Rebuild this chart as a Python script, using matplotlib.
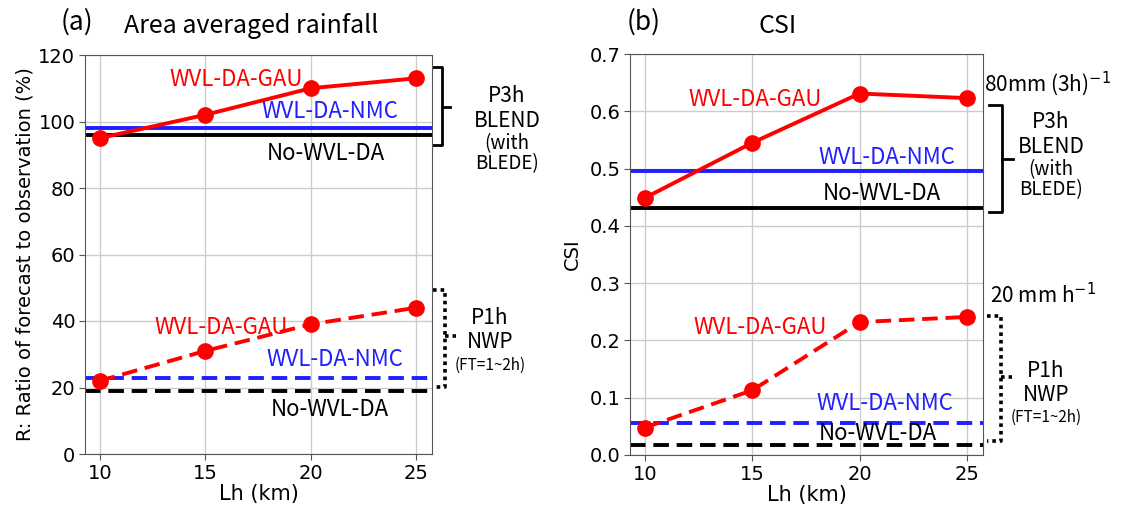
import matplotlib
matplotlib.use("Agg")
import matplotlib.pyplot as plt
import matplotlib.transforms as mtransforms

plt.rcParams['font.family'] = ['DejaVu Sans']
JP = ['Noto Sans CJK JP', 'DejaVu Sans']

W, H = 1123, 516

lh = [10, 15, 20, 25]

# (a) Area averaged rainfall ratio (%)
rain_gau_p3h = [95, 102, 110, 113]
rain_nmc_p3h = 98
rain_no_p3h = 96
rain_gau_p1h = [22, 31, 39, 44]
rain_nmc_p1h = 23
rain_no_p1h = 19

# (b) CSI
csi_gau_p3h = [0.449, 0.545, 0.631, 0.623]
csi_nmc_p3h = 0.496
csi_no_p3h = 0.432
csi_gau_p1h = [0.048, 0.113, 0.232, 0.241]
csi_nmc_p1h = 0.056
csi_no_p1h = 0.017

fig = plt.figure(figsize=(W / 100, H / 100), dpi=100)

def fax(x0, x1, y0, y1):
    return [x0 / W, 1 - y1 / H, (x1 - x0) / W, (y1 - y0) / H]

ax1 = fig.add_axes(fax(85, 432, 55, 454))
ax2 = fig.add_axes(fax(630, 983, 54, 455))

def ftext(x, y, s, **kw):
    fig.text(x / W, 1 - y / H, s, ha=kw.pop('ha', 'center'), va=kw.pop('va', 'center'),
             family=kw.pop('family', JP), **kw)

def style(ax):
    ax.grid(True, color='#cccccc', linewidth=1)
    ax.set_axisbelow(True)
    for sp in ax.spines.values():
        sp.set_color('#555555')
    ax.tick_params(labelsize=14, length=4, color='#555555', pad=3)
    ax.set_xticks(lh)

lw = 2.8
dash = (0, (4, 2))
for ax, gau3, nmc3, no3, gau1, nmc1, no1 in [
    (ax1, rain_gau_p3h, rain_nmc_p3h, rain_no_p3h, rain_gau_p1h, rain_nmc_p1h, rain_no_p1h),
    (ax2, csi_gau_p3h, csi_nmc_p3h, csi_no_p3h, csi_gau_p1h, csi_nmc_p1h, csi_no_p1h),
]:
    style(ax)
    ax.axhline(no3, color='black', lw=lw, zorder=2)
    ax.axhline(nmc3, color='#1f1fff', lw=lw, zorder=2)
    ax.plot(lh, gau3, color='red', lw=lw, marker='o', markersize=11, zorder=3)
    ax.axhline(no1, color='black', lw=lw, ls=dash, zorder=2)
    ax.axhline(nmc1, color='#1f1fff', lw=lw, ls=dash, zorder=2)
    ax.plot(lh, gau1, color='red', lw=lw, ls=dash, marker='o', markersize=11, zorder=3)
    ax.set_xlim(9.3, 25.75)
    ax.set_xlabel('Lh (km)', fontsize=15, labelpad=1)

ax1.set_ylim(0, 120)
ax1.set_yticks(range(0, 121, 20))
ax1.set_ylabel('R: Ratio of forecast to observation (%)', fontsize=14, labelpad=3)
ax2.set_ylim(0, 0.7)
ax2.set_yticks([0.0, 0.1, 0.2, 0.3, 0.4, 0.5, 0.6, 0.7])
ax2.set_yticklabels(['0.0', '0.1', '0.2', '0.3', '0.4', '0.5', '0.6', '0.7'])
ax2.set_ylabel('CSI', fontsize=14, labelpad=5)

# series labels
fs = 16
ftext(236, 79, 'WVL-DA-GAU', color='red', fontsize=fs)
ftext(330, 112, 'WVL-DA-NMC', color='#1f1fff', fontsize=fs)
ftext(326, 153, 'No-WVL-DA', color='black', fontsize=fs)
ftext(221, 328, 'WVL-DA-GAU', color='red', fontsize=fs)
ftext(335, 360, 'WVL-DA-NMC', color='#1f1fff', fontsize=fs)
ftext(330, 410, 'No-WVL-DA', color='black', fontsize=fs)

ftext(755, 100, 'WVL-DA-GAU', color='red', fontsize=fs)
ftext(887, 158, 'WVL-DA-NMC', color='#1f1fff', fontsize=fs)
ftext(882, 194, 'No-WVL-DA', color='black', fontsize=fs)
ftext(760, 328, 'WVL-DA-GAU', color='red', fontsize=fs)
ftext(885, 403, 'WVL-DA-NMC', color='#1f1fff', fontsize=fs)
ftext(878, 434, 'No-WVL-DA', color='black', fontsize=fs)

# titles
ftext(77, 22, '(a)', fontsize=19)
ftext(251, 26, 'Area averaged rainfall', fontsize=18)
ftext(644, 22, '(b)', fontsize=19)
ftext(778, 26, 'CSI', fontsize=18)

# brackets
def bracket(ax, xs, ytop, ybot, ymid, ls, lwb):
    tr = mtransforms.blended_transform_factory(ax.transAxes, ax.transData)
    x0, x1, x2 = xs
    ax.plot([x0, x1, x1, x0], [ytop, ytop, ybot, ybot], color='black', lw=lwb,
            ls=ls, transform=tr, clip_on=False)
    ax.plot([x1, x2], [ymid, ymid], color='black', lw=lwb, ls=ls,
            transform=tr, clip_on=False)

dot = (0, (1, 1.1))
bracket(ax1, (1.003, 1.028, 1.052), 116.5, 93.0, 104.5, '-', 2.0)
bracket(ax1, (1.003, 1.037, 1.068), 49.3, 20.2, 35.5, dot, 2.6)
bracket(ax2, (1.017, 1.054, 1.085), 0.611, 0.425, 0.517, '-', 2.0)
bracket(ax2, (1.011, 1.050, 1.082), 0.243, 0.024, 0.136, dot, 2.6)

# bracket annotations
ftext(507, 96, 'P3h', fontsize=15)
ftext(507, 121, 'BLEND', fontsize=15)
ftext(507, 144, '(with', fontsize=13.5)
ftext(507, 164, 'BLEDE)', fontsize=13.5)
ftext(490, 318, 'P1h', fontsize=15)
ftext(490, 342, 'NWP', fontsize=15)
ftext(490, 365, '(FT=1~2h)', fontsize=11)

ftext(1047, 84, '80mm (3h)$^{-1}$', fontsize=15)
ftext(1051, 122, 'P3h', fontsize=15)
ftext(1051, 147, 'BLEND', fontsize=15)
ftext(1051, 170, '(with', fontsize=13.5)
ftext(1051, 190, 'BLEDE)', fontsize=13.5)
ftext(1043, 296, '20 mm h$^{-1}$', fontsize=15)
ftext(1046, 371, 'P1h', fontsize=15)
ftext(1046, 395, 'NWP', fontsize=15)
ftext(1046, 417, '(FT=1~2h)', fontsize=11)

fig.savefig('out.png', dpi=100)
